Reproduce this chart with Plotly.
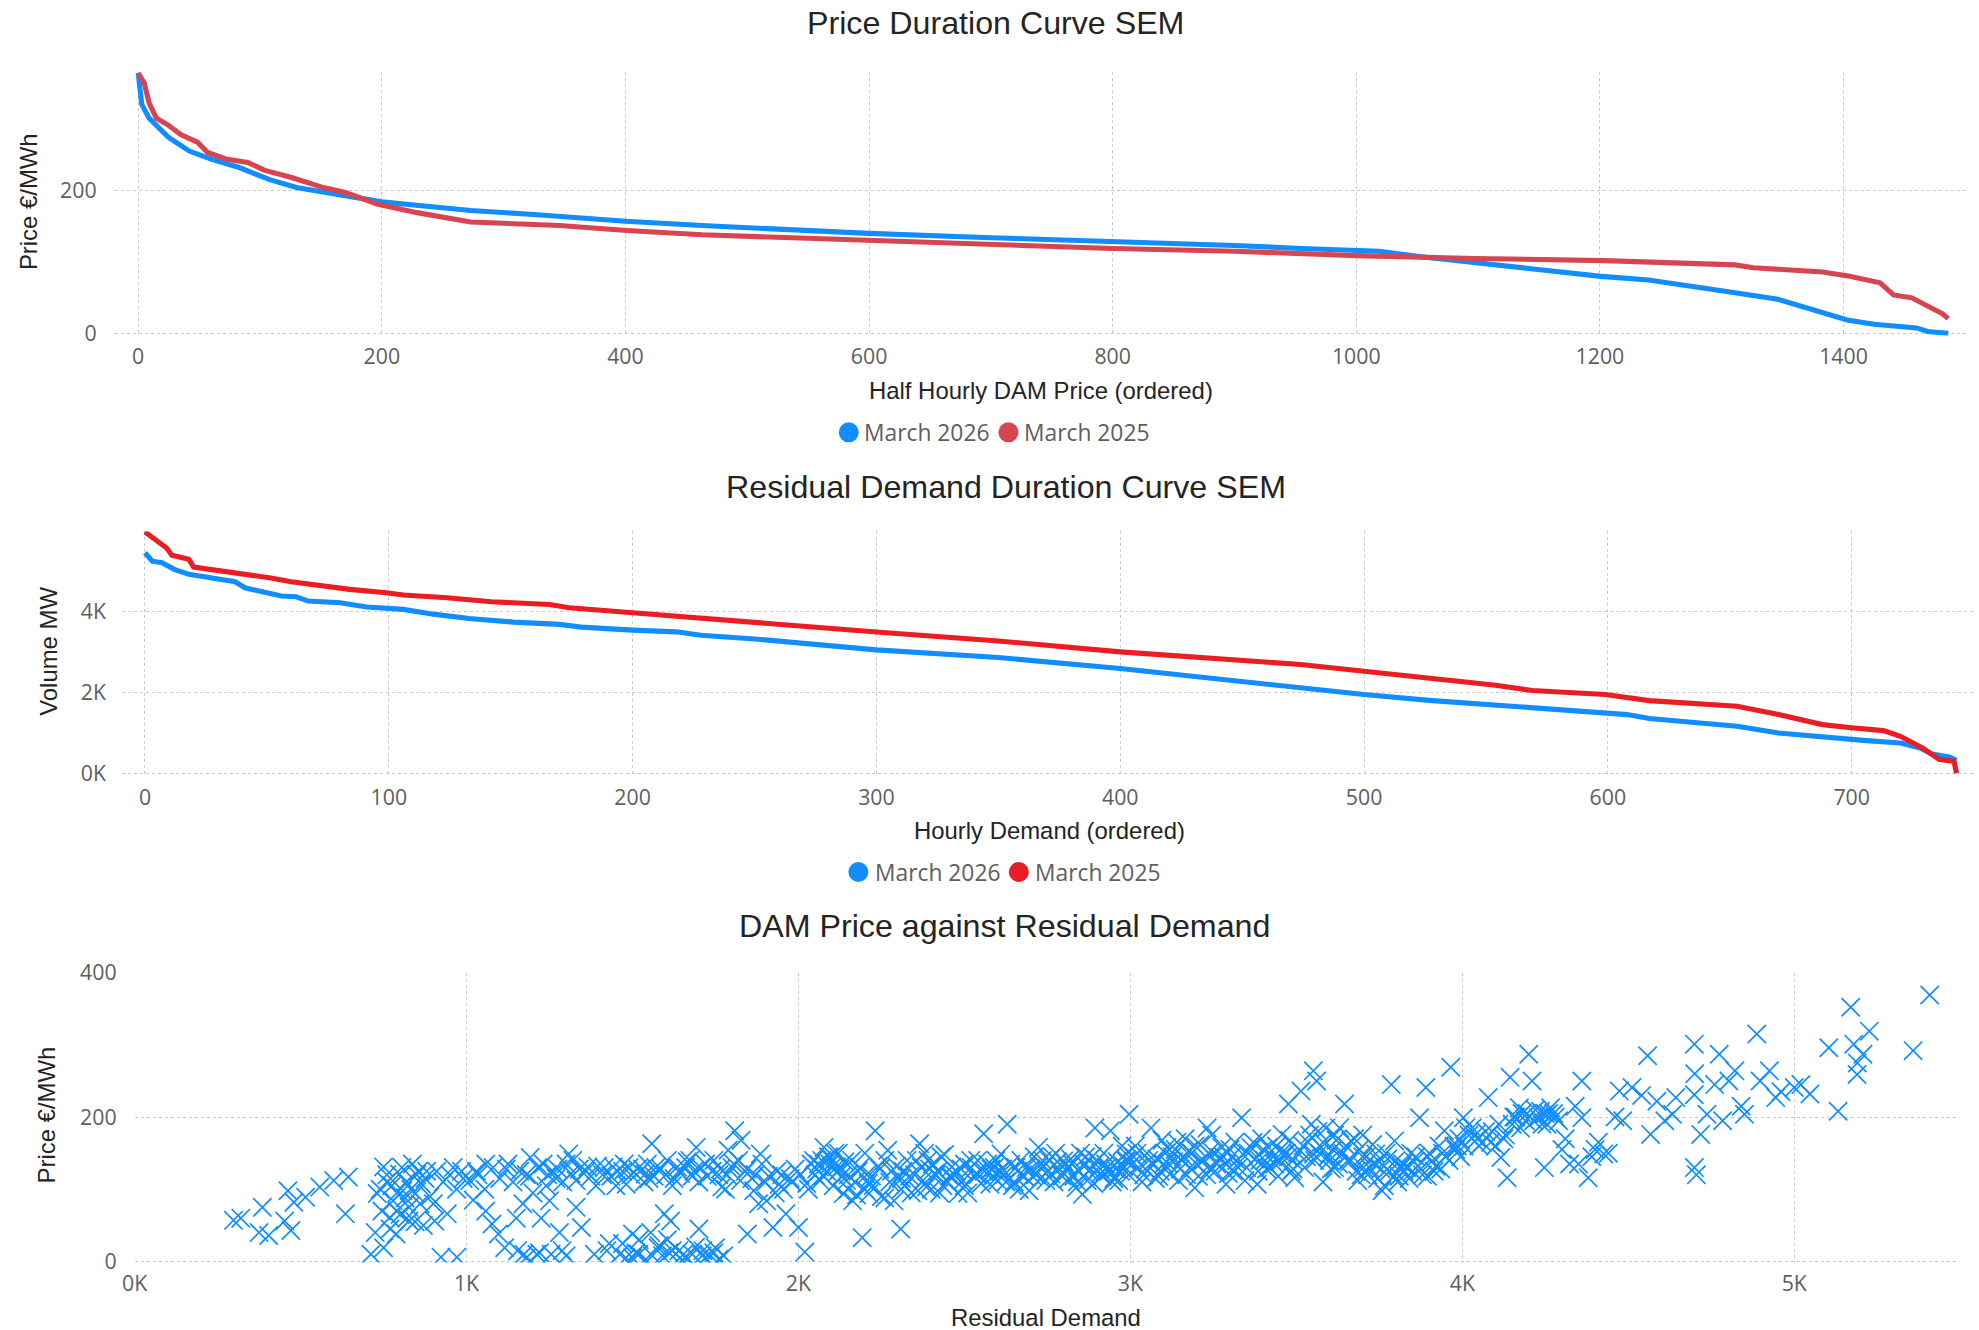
import plotly.graph_objects as go

# ---- Price duration curve (half hourly, ordered) ----
price_rank_2026 = [0, 3, 9, 25, 42, 61, 83, 108, 130, 160, 182, 200, 237, 273, 328, 383, 400, 463, 500,
                   600, 700, 800, 900, 955, 1000, 1019, 1055, 1097, 1133, 1169, 1201, 1240, 1276, 1311,
                   1346, 1364, 1386, 1403, 1425, 1460, 1469, 1486]
price_2026 = [364, 320, 301, 274, 255, 243, 232, 215, 204, 195, 189, 184, 178, 172, 166, 158, 157, 151, 148,
              140, 134, 129, 123, 119, 116, 115, 107, 99, 92, 85, 80, 75, 65, 57,
              48, 39, 28, 19, 13, 8, 3, 0.5]

price_rank_2025 = [0, 5, 9, 15, 24, 35, 49, 57, 72, 90, 104, 126, 152, 170, 182, 196, 229, 273, 346, 401,
                   463, 500, 600, 700, 800, 900, 1000, 1097, 1204, 1311, 1326, 1383, 1405, 1430, 1441,
                   1456, 1471, 1481, 1486]
price_2025 = [364, 350, 322, 301, 292, 278, 267, 253, 244, 239, 228, 218, 204, 197, 190, 181, 169, 156, 151, 144,
              138, 136, 129, 124, 119, 115, 109, 105, 102, 96, 92, 86, 80, 71, 54,
              50, 37, 28, 21]

# ---- Residual demand duration curve (hourly, ordered) ----
demand_rank_2026 = [0, 3, 7, 12, 18, 29, 37, 41, 51, 56, 62, 67, 80, 91, 106, 119, 133, 151, 170, 179, 200,
                    218, 228, 250, 300, 350, 400, 450, 474, 500, 528, 563, 599, 608, 617, 653, 670, 688,
                    706, 720, 728, 733, 740, 743]
demand_2026 = [5466, 5256, 5220, 5055, 4930, 4806, 4747, 4598, 4474, 4392, 4375, 4268, 4226, 4119, 4062,
               3938, 3838, 3747, 3690, 3623, 3548, 3506, 3420, 3330, 3060, 2870, 2600, 2280, 2100, 1952,
               1803, 1662, 1497, 1456, 1357, 1166, 1000, 893, 811, 752, 628, 479, 405, 322]

demand_rank_2025 = [0, 4, 9, 11, 18, 20, 27, 42, 51, 60, 73, 84, 99, 106, 124, 142, 166, 174, 200, 228, 250,
                    300, 350, 400, 450, 474, 500, 528, 554, 569, 599, 617, 653, 670, 688, 701, 713, 720,
                    729, 736, 742, 743]
demand_2025 = [5980, 5798, 5575, 5401, 5302, 5111, 5055, 4946, 4847, 4747, 4640, 4558, 4474, 4417, 4350,
               4251, 4185, 4102, 3978, 3854, 3740, 3500, 3280, 3010, 2790, 2697, 2531, 2350, 2184, 2052,
               1952, 1803, 1662, 1456, 1208, 1124, 1059, 918, 628, 340, 298, 0]

# ---- DAM price against residual demand (hourly points) ----
# each line of demand_mw pairs with the same line of price_eur
demand_mw = [
    298, 320, 385, 375, 404, 452, 471, 462, 515, 558, 635, 644, 600, 480,
    712, 731, 750, 769, 779, 798, 808, 827, 837, 846, 865, 827, 750, 788, 904, 942, 923, 971, 760, 790, 815, 850, 880, 900, 725, 740, 960, 990, 870, 820,
    1010, 1058, 1077, 1096, 1058, 1115, 1154, 1192, 1173, 1212, 1231, 1250, 1288, 1308, 1346, 1365, 1385, 1030, 1120, 1140, 1180, 1200, 1240, 1270, 1300, 1330, 1360, 1390, 1020, 1150, 1220, 1260, 1320,
    1423, 1442, 1462, 1481, 1500, 1519, 1538, 1558, 1577, 1596, 1615, 1635, 1654, 1673, 1692, 1712, 1731, 1750, 1769, 1788, 1808, 1827, 1846, 1865, 1885, 1904, 1923, 1942, 1962, 1410, 1450, 1470, 1490, 1530, 1550, 1570, 1600, 1620, 1640, 1660, 1680, 1700, 1720, 1740, 1760, 1780, 1800, 1820, 1840, 1860, 1880, 1900, 1930, 1950, 1980, 1500, 1560, 1610, 1660, 1710, 1760, 1470, 1520, 1580, 1640, 1690,
    2000, 2019, 2038, 2077, 2096, 2115, 2135, 2163, 2192, 2212, 2231, 2269, 2288, 2308, 2327, 2365, 2385, 2404, 2462, 2481, 2519, 2558, 2577, 2050, 2060, 2070, 2085, 2090, 2100, 2110, 2125, 2140, 2150, 2170, 2180, 2200, 2220, 2240, 2250, 2260, 2280, 2300, 2320, 2340, 2350, 2370, 2390, 2400, 2420, 2440, 2450, 2470, 2490, 2500, 2510, 2530, 2540, 2560, 2590, 2600, 2030, 2065, 2105, 2130, 2175, 2210, 2260, 2310, 2360, 2410, 2430, 2455, 2500, 2540, 2580,
    2610, 2629, 2686, 2723, 2761, 2799, 2836, 2855, 2893, 2940, 2987, 2996, 2620, 2640, 2650, 2660, 2670, 2680, 2700, 2710, 2730, 2740, 2750, 2770, 2780, 2790, 2810, 2820, 2830, 2845, 2860, 2870, 2880, 2900, 2910, 2920, 2930, 2950, 2960, 2970, 2980, 2645, 2695, 2735, 2775, 2815, 2865, 2905, 2945, 2975, 2615, 2665, 2715, 2765, 2805, 2850, 2890, 2935, 2990,
    3024, 3062, 3100, 3119, 3175, 3194, 3231, 3269, 3288, 3335, 3363, 3382, 3420, 3457, 3476, 3495, 3010, 3040, 3050, 3070, 3080, 3090, 3110, 3130, 3140, 3150, 3160, 3170, 3185, 3200, 3210, 3220, 3240, 3250, 3260, 3280, 3300, 3310, 3320, 3340, 3350, 3370, 3390, 3400, 3410, 3430, 3440, 3450, 3470, 3480, 3490, 3035, 3075, 3125, 3165, 3205, 3245, 3295, 3345, 3395, 3445, 3485, 3015, 3095, 3145, 3230, 3315, 3405, 3465,
    3514, 3551, 3561, 3551, 3589, 3627, 3645, 3664, 3702, 3739, 3758, 3786, 3796, 3833, 3871, 3890, 3909, 3946, 3965, 3520, 3530, 3540, 3570, 3580, 3600, 3610, 3620, 3635, 3650, 3660, 3675, 3690, 3710, 3720, 3730, 3750, 3770, 3780, 3800, 3810, 3820, 3850, 3860, 3880, 3900, 3920, 3930, 3950, 3980, 3990, 3525, 3565, 3605, 3655, 3695, 3745, 3805, 3845, 3895, 3935, 3975, 3545, 3615, 3685, 3765, 3825,
    4003, 4040, 4078, 4116, 4135, 4144, 4172, 4200, 4210, 4229, 4247, 4266, 4323, 4360, 4360, 4379, 4426, 4473, 4483, 4020, 4060, 4090, 4100, 4150, 4160, 4180, 4190, 4220, 4240, 4250, 4280, 4300, 4310, 4340, 4400, 4410, 4440, 4460, 4010, 4050, 4125, 4260, 4350, 4390,
    4511, 4558, 4567, 4586, 4633, 4643, 4699, 4699, 4699, 4718, 4737, 4774, 4784, 4803, 4821, 4850, 4887, 4897, 4925, 4944, 5000, 5047, 5104, 5132, 5170, 5179, 5189, 5207, 5226, 5358, 5408, 4540, 4610, 4700, 4760, 4840, 4960, 5020, 5190, 4705,
    760, 775, 790, 805, 818, 832, 855, 875, 890, 910, 930, 950, 970, 985, 745, 770, 800, 845, 860,
    1035, 1055, 1080, 1100, 1125, 1160, 1190, 1215, 1245, 1275, 1290, 1315, 1340, 1375, 1395, 1170, 1225, 1280, 1330, 1255, 1300, 1180,
    1415, 1435, 1455, 1475, 1495, 1515, 1535, 1545, 1565, 1585, 1605, 1625, 1645, 1665, 1685, 1705, 1725, 1745, 1765, 1785, 1805, 1825, 1845, 1870, 1890, 1910, 1935, 1955, 1975, 1990, 1480, 1510, 1540, 1590, 1620, 1650, 1680, 1720, 1745, 1775, 1430, 1555, 1605, 1700,
    2005, 2025, 2045, 2055, 2075, 2095, 2120, 2145, 2160, 2185, 2205, 2225, 2245, 2275, 2295, 2315, 2335, 2355, 2375, 2395, 2415, 2435, 2460, 2475, 2495, 2520, 2535, 2550, 2570, 2585, 2595, 2120, 2200, 2380, 2310, 2150, 2425,
    2605, 2625, 2655, 2675, 2705, 2725, 2745, 2755, 2785, 2795, 2825, 2840, 2875, 2885, 2915, 2925, 2955, 2965, 2985, 2995,
    3005, 3020, 3045, 3055, 3085, 3105, 3115, 3135, 3155, 3180, 3195, 3215, 3235, 3255, 3275, 3290, 3305, 3325, 3355, 3375, 3385, 3415, 3435, 3455, 3475, 3490,
    3505, 3535, 3555, 3575, 3595, 3615, 3640, 3660, 3680, 3700, 3715, 3735, 3755, 3775, 3795, 3815, 3840, 3855, 3875, 3895, 3915, 3940, 3960, 3985, 3995, 3630, 3700, 3580,
    4005, 4030, 4045, 4070, 4085, 4110, 4130, 4155, 4175, 4195, 4215, 4235, 4255, 4275, 4290,
]
price_eur = [
    57, 60, 75, 40, 36, 56, 43, 98, 89, 103, 66, 117, 112, 82,
    10, 94, 131, 61, 84, 121, 98, 75, 135, 94, 107, 56, 19, 38, 56, 66, 6, 6, 110, 70, 88, 120, 125, 80, 40, 100, 130, 115, 50, 60,
    112, 135, 52, 38, 70, 19, 15, 144, 10, 10, 135, 84, 15, 149, 47, 131, 10, 125, 128, 110, 120, 95, 105, 115, 135, 112, 125, 105, 85, 60, 12, 125, 140,
    15, 131, 10, 107, 38, 10, 121, 163, 19, 66, 56, 131, 10, 140, 158, 15, 10, 19, 103, 154, 181, 168, 38, 98, 149, 84, 47, 107, 66, 120, 105, 125, 130, 128, 115, 130, 120, 105, 125, 130, 118, 110, 135, 125, 120, 100, 130, 140, 125, 115, 80, 110, 95, 120, 110, 5, 8, 12, 5, 8, 3, 25, 30, 22, 15, 20,
    47, 13, 135, 158, 144, 131, 94, 84, 33, 94, 181, 154, 84, 45, 140, 163, 103, 135, 131, 94, 140, 177, 107, 120, 135, 140, 125, 145, 130, 150, 128, 138, 120, 110, 125, 100, 118, 132, 90, 140, 125, 115, 105, 95, 120, 130, 140, 100, 125, 148, 110, 120, 128, 135, 95, 118, 140, 125, 130, 112, 100, 112, 105, 118, 92, 108, 88, 115, 98, 122, 145, 118, 105, 120, 128,
    149, 190, 130, 158, 121, 139, 102, 93, 185, 181, 149, 204, 120, 135, 110, 125, 140, 118, 128, 145, 115, 132, 125, 110, 138, 120, 130, 142, 118, 125, 135, 112, 128, 140, 122, 150, 130, 115, 138, 125, 132, 105, 98, 140, 150, 115, 145, 130, 110, 160, 128, 100, 120, 145, 135, 150, 108, 125, 140,
    130, 185, 135, 121, 153, 102, 185, 144, 107, 199, 158, 107, 130, 176, 218, 116, 145, 120, 150, 135, 142, 125, 158, 138, 165, 128, 145, 120, 150, 135, 162, 140, 128, 150, 135, 145, 155, 125, 140, 148, 130, 165, 140, 155, 128, 145, 160, 138, 150, 168, 140, 110, 115, 145, 170, 118, 175, 122, 112, 170, 118, 125, 160, 168, 112, 120, 165, 140, 150,
    236, 264, 250, 149, 185, 135, 218, 167, 130, 149, 98, 245, 167, 130, 199, 241, 139, 181, 269, 160, 145, 175, 150, 165, 140, 155, 168, 148, 160, 142, 170, 155, 145, 130, 162, 138, 150, 125, 140, 118, 135, 125, 145, 120, 150, 132, 160, 145, 155, 170, 130, 180, 128, 140, 120, 115, 110, 150, 118, 128, 160, 190, 175, 112, 105, 125,
    199, 176, 227, 144, 116, 255, 213, 287, 250, 199, 130, 213, 135, 250, 199, 116, 149, 236, 195, 175, 165, 180, 160, 190, 200, 205, 195, 210, 190, 205, 200, 155, 170, 215, 155, 165, 150, 200, 185, 160, 170, 205, 135, 145,
    241, 285, 176, 222, 204, 227, 301, 130, 231, 176, 204, 287, 195, 250, 264, 204, 315, 250, 264, 227, 241, 232, 296, 208, 352, 301, 259, 287, 319, 292, 369, 230, 195, 260, 245, 215, 235, 245, 275, 120,
    120, 105, 95, 130, 110, 100, 125, 115, 90, 125, 110, 120, 100, 125, 70, 45, 65, 55, 80,
    120, 100, 130, 115, 135, 125, 118, 130, 120, 128, 110, 122, 128, 118, 132, 80, 60, 40, 75, 10, 8, 5,
    130, 118, 125, 135, 120, 128, 110, 135, 118, 128, 140, 115, 122, 138, 125, 130, 118, 140, 128, 120, 135, 112, 128, 120, 135, 118, 125, 100, 115, 128, 5, 12, 3, 8, 15, 2, 10, 5, 12, 8, 25, 40, 30, 45,
    120, 108, 140, 128, 118, 135, 125, 112, 140, 130, 120, 105, 128, 110, 132, 125, 118, 140, 112, 128, 120, 105, 118, 125, 112, 130, 122, 108, 135, 118, 140, 150, 150, 150, 100, 100, 95,
    125, 110, 130, 120, 118, 132, 112, 140, 128, 118, 135, 110, 125, 145, 118, 135, 128, 112, 140, 120,
    135, 150, 128, 140, 118, 150, 135, 155, 140, 130, 160, 138, 150, 125, 158, 135, 145, 130, 150, 142, 125, 158, 135, 150, 145, 128,
    150, 165, 140, 158, 145, 130, 150, 138, 125, 145, 120, 135, 128, 142, 118, 130, 115, 138, 128, 145, 125, 150, 140, 160, 145, 185, 175, 110,
    160, 185, 170, 180, 165, 190, 175, 200, 185, 205, 195, 208, 190, 205, 195,
]

series_names = ["March 2026", "March 2025"]
k_ticks = [0, 1000, 2000, 3000, 4000, 5000]
k_labels = ["0K", "1K", "2K", "3K", "4K", "5K"]

W, H = 1979, 1330
BLUE = "#118DFF"
RED_TOP = "#D64550"
RED_MID = "#EB1C24"
GRID = "#C8C8C8"

TICK_FONT = dict(family="Open Sans", size=21.3, color="#605E5C")
TITLE_FONT = dict(family="Liberation Sans", size=32.2, color="#252423")
AXIS_FONT = dict(family="Liberation Sans", size=23.9, color="#252423")
LEGEND_FONT = dict(family="Open Sans", size=22.8, color="#605E5C")

# the captured picture maps figure pixels a little off 1:1, so positions
# (taken from the target picture) are converted back to figure pixels here
SX, OX = 0.9929, 12.4
SY, OY = 0.9796, 14.4


def px_x(p):
    return (p - OX) / SX / W


def px_y(p):
    return 1 - (p - OY) / SY / H


fig = go.Figure()

fig.add_trace(go.Scatter(x=price_rank_2026, y=price_2026, mode="lines", name=series_names[0],
                         line=dict(color=BLUE, width=5.1), xaxis="x", yaxis="y", showlegend=False))
fig.add_trace(go.Scatter(x=price_rank_2025, y=price_2025, mode="lines", name=series_names[1],
                         line=dict(color=RED_TOP, width=5.1), xaxis="x", yaxis="y", showlegend=False))
fig.add_trace(go.Scatter(x=demand_rank_2026, y=demand_2026, mode="lines", name=series_names[0],
                         line=dict(color=BLUE, width=5.1), xaxis="x2", yaxis="y2", showlegend=False))
fig.add_trace(go.Scatter(x=demand_rank_2025, y=demand_2025, mode="lines", name=series_names[1],
                         line=dict(color=RED_MID, width=5.1), xaxis="x2", yaxis="y2", showlegend=False))
fig.add_trace(go.Scatter(x=demand_mw, y=price_eur, mode="markers", name="DAM Price",
                         marker=dict(symbol="x-thin", size=18.3, color=BLUE,
                                     line=dict(color=BLUE, width=1.7)),
                         xaxis="x3", yaxis="y3", showlegend=False))

axis_common = dict(showgrid=True, gridcolor=GRID, griddash="dot", gridwidth=1.3,
                   zeroline=False, showline=False, ticks="", tickfont=TICK_FONT)

fig.update_layout(
    width=W, height=H,
    margin=dict(l=0, r=0, t=0, b=0),
    paper_bgcolor="white", plot_bgcolor="white",
    showlegend=False,
    xaxis=dict(domain=[px_x(114), px_x(1967)], range=[-19.3, 1502.7], dtick=200,
               anchor="y", ticklabelstandoff=6, **axis_common),
    yaxis=dict(domain=[px_y(334.4), px_y(70)], range=[-3, 366], tickvals=[0, 200],
               anchor="x", ticklabelstandoff=17, **axis_common),
    xaxis2=dict(domain=[px_x(121.4), px_x(1973.4)], range=[-9.4, 750.6], dtick=100,
                anchor="y2", ticklabelstandoff=7, **axis_common),
    yaxis2=dict(domain=[px_y(774.7), px_y(529.9)], range=[-60, 6000], tickvals=[0, 2000, 4000],
                ticktext=["0K", "2K", "4K"], anchor="x2", ticklabelstandoff=15, **axis_common),
    xaxis3=dict(domain=[px_x(133.9), px_x(1955.3)], range=[0, 5490], tickvals=k_ticks,
                ticktext=k_labels, anchor="y3", ticklabelstandoff=6, **axis_common),
    yaxis3=dict(domain=[px_y(1261.8), px_y(971.7)], range=[-1.5, 400], tickvals=[0, 200, 400],
                anchor="x3", ticklabelstandoff=17, **axis_common),
)

texts = [
    ("Price Duration Curve SEM", 994.5, 21, TITLE_FONT, 0),
    ("Residual Demand Duration Curve SEM", 1005, 486, TITLE_FONT, 0),
    ("DAM Price against Residual Demand", 1003, 925, TITLE_FONT, 0),
    ("Half Hourly DAM Price (ordered)", 1040, 389, AXIS_FONT, 0),
    ("Hourly Demand (ordered)", 1048, 829, AXIS_FONT, 0),
    ("Residual Demand", 1045, 1317, AXIS_FONT, 0),
    ("Price €/MWh", 28, 200, AXIS_FONT, -90),
    ("Volume MW", 48, 650, AXIS_FONT, -90),
    ("Price €/MWh", 46, 1114, AXIS_FONT, -90),
]
for txt, x, y, font, ang in texts:
    fig.add_annotation(text=txt, xref="paper", yref="paper", x=px_x(x), y=px_y(y),
                       xanchor="center", yanchor="middle", showarrow=False, font=font, textangle=ang)

# legends (circle + label) under the two duration curves
legend_items = [
    (847.7, 431, BLUE, series_names[0], 861),
    (1007.3, 431, RED_TOP, series_names[1], 1021),
    (857.3, 871, BLUE, series_names[0], 872),
    (1017.7, 871, RED_MID, series_names[1], 1032),
]
for cx, cy, col, label, tx in legend_items:
    fig.add_shape(type="circle", xref="paper", yref="paper",
                  x0=px_x(cx - 10), x1=px_x(cx + 10), y0=px_y(cy + 10), y1=px_y(cy - 10),
                  fillcolor=col, line_width=0)
    fig.add_annotation(text=label, xref="paper", yref="paper", x=px_x(tx), y=px_y(cy),
                       xanchor="left", yanchor="middle", showarrow=False, font=LEGEND_FONT)

fig.write_html("out.html", config={"displayModeBar": False},
               post_script="document.body.style.margin='0';")
